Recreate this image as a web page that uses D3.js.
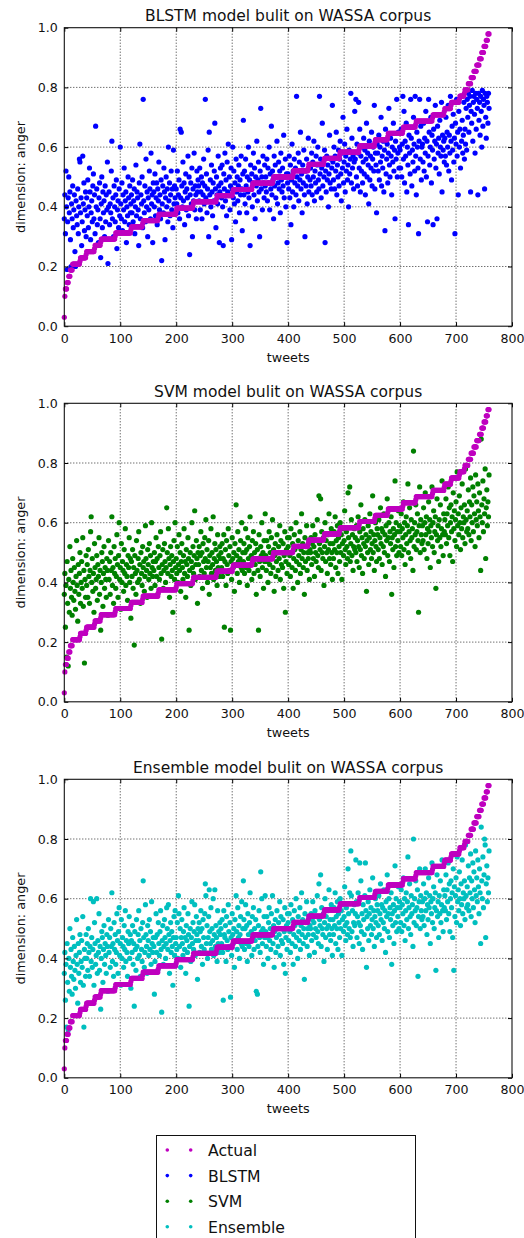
<!DOCTYPE html>
<html><head><meta charset="utf-8">
<script src="https://cdn.jsdelivr.net/npm/d3@7"></script>
<style>body{margin:0;background:#fff}svg{display:block}text{font-family:"DejaVu Sans",sans-serif;fill:#111}</style>
</head><body><svg id="c" width="524" height="1238"></svg>
<script>
const xTicks=[0,100,200,300,400,500,600,700,800];
const yTicks=[0,0.2,0.4,0.6,0.8,1.0];
const titles=["BLSTM model bulit on WASSA corpus","SVM model bulit on WASSA corpus","Ensemble model bulit on WASSA corpus"];
const seriesNames=["Actual","BLSTM","SVM","Ensemble"];
const seriesColors=["#bf00bf","#0000ff","#008000","#00bfbf"];
// Actual anger intensity (sorted): distinct values and how many tweets share each
const actualLevels=[0.03,0.10,0.125,0.146,0.167,0.188,0.208,0.218,0.229,0.24,0.25,0.26,0.271,0.281,0.292,0.302,0.3125,0.323,0.333,0.344,0.354,0.365,0.375,0.385,0.396,0.406,0.417,0.427,0.4375,0.448,0.458,0.469,0.479,0.49,0.5,0.51,0.521,0.531,0.542,0.552,0.5625,0.573,0.583,0.594,0.604,0.615,0.625,0.635,0.646,0.656,0.667,0.677,0.6875,0.698,0.708,0.719,0.729,0.74,0.75,0.76,0.771,0.781,0.792,0.8125,0.833,0.854,0.875,0.896,0.917,0.9375,0.958,0.979];
const actualCounts=[1,1,3,3,3,4,13,1,10,1,14,1,10,1,25,1,27,1,20,1,27,1,31,1,29,1,41,1,28,1,34,1,36,1,35,1,26,1,27,1,27,1,34,1,27,1,22,1,26,1,22,1,29,1,20,1,11,1,14,1,8,1,6,5,5,5,5,4,4,4,3,3];
const blstm=[
.36,.44,.31,.52,.40,.19,.35,.43,.50,.38,.45,.29,.20,.41,.36,.47,.33,.39,.44,.25,.20,.42,.37,.34,.46,.31,.40,.56,.55,.38,.43,.27,.35,.57,.41,.48,.32,.39,.45,.30,
.43,.37,.49,.33,.40,.53,.45,.29,.38,.42,.35,.47,.51,.36,.44,.31,.67,.40,.46,.34,.39,.28,.43,.48,.36,.23,.41,.50,.33,.45,.38,.42,.30,.47,.35,.44,.39,.55,.21,.40,
.45,.34,.41,.38,.52,.62,.36,.43,.30,.47,.40,.35,.44,.49,.26,.39,.42,.33,.46,.37,.60,.41,.36,.48,.32,.44,.39,.53,.35,.42,.45,.28,.40,.37,.50,.43,.34,.47,.38,.41,
.44,.38,.49,.35,.42,.46,.31,.40,.54,.37,.45,.43,.39,.27,.48,.61,.36,.44,.41,.50,.33,.76,.42,.38,.47,.35,.56,.40,.45,.30,.43,.39,.52,.46,.36,.58,.41,.44,.28,.48,
.45,.40,.51,.37,.43,.48,.34,.46,.42,.55,.39,.44,.36,.49,.22,.41,.47,.38,.53,.45,.29,.43,.50,.40,.46,.35,.60,.42,.48,.37,.44,.52,.39,.46,.33,.59,.41,.47,.43,.38,
.46,.41,.52,.38,.44,.49,.36,.66,.43,.65,.47,.40,.55,.42,.48,.34,.45,.51,.39,.46,.43,.57,.37,.50,.24,.44,.48,.41,.53,.30,.46,.42,.58,.39,.47,.44,.36,.52,.45,.49,
.47,.42,.53,.39,.45,.50,.36,.48,.44,.56,.41,.47,.76,.43,.51,.38,.46,.59,.30,.65,.44,.49,.40,.54,.45,.37,.48,.42,.52,.68,.46,.33,.50,.44,.41,.57,.47,.28,.45,.53,
.48,.43,.54,.40,.27,.51,.46,.58,.42,.49,.37,.55,.45,.61,.44,.50,.39,.47,.53,.29,.46,.60,.43,.52,.41,.48,.35,.56,.45,.50,.42,.47,.54,.38,.49,.44,.57,.46,.32,.51,
.69,.44,.52,.41,.56,.47,.38,.50,.45,.60,.43,.49,.27,.54,.46,.51,.40,.48,.58,.44,.53,.36,.50,.47,.62,.42,.49,.55,.45,.30,.52,.73,.46,.50,.39,.57,.48,.43,.54,.47,
.50,.45,.56,.42,.53,.48,.60,.39,.51,.46,.67,.44,.52,.49,.36,.57,.47,.54,.43,.50,.62,.41,.48,.55,.46,.52,.38,.58,.49,.45,.53,.47,.64,.43,.50,.56,.40,.51,.28,.48,
.51,.46,.57,.43,.54,.34,.49,.61,.45,.52,.40,.56,.48,.53,.44,.77,.50,.47,.58,.42,.55,.49,.65,.46,.51,.38,.54,.48,.59,.44,.30,.52,.47,.56,.41,.50,.63,.45,.53,.49,
.53,.47,.58,.44,.55,.50,.62,.42,.52,.48,.57,.45,.54,.60,.49,.46,.77,.51,.56,.43,.53,.68,.47,.55,.50,.59,.28,.52,.45,.57,.49,.54,.40,.51,.64,.48,.56,.46,.53,.74,
.55,.49,.60,.46,.57,.52,.65,.44,.54,.50,.59,.47,.56,.62,.51,.42,.58,.53,.70,.48,.55,.61,.45,.57,.52,.66,.49,.54,.40,.59,.51,.56,.78,.48,.63,.53,.57,.46,.55,.72,
.56,.76,.50,.61,.47,.58,.75,.53,.66,.45,.57,.52,.60,.48,.55,.63,.51,.59,.44,.56,.68,.50,.58,.54,.41,.62,.49,.57,.53,.65,.47,.56,.60,.52,.74,.46,.58,.54,.38,.61,
.58,.52,.64,.49,.60,.55,.70,.47,.57,.53,.62,.45,.59,.32,.66,.51,.56,.61,.48,.58,.73,.54,.50,.63,.57,.44,.60,.55,.68,.52,.59,.36,.62,.56,.76,.50,.58,.65,.53,.60,
.59,.53,.66,.50,.61,.77,.56,.72,.48,.62,.57,.68,.45,.60,.54,.34,.64,.58,.51,.76,.63,.47,.59,.55,.70,.61,.52,.77,.57,.44,.65,.60,.53,.31,.62,.76,.56,.67,.49,.60,
.61,.55,.68,.52,.63,.58,.72,.50,.62,.35,.57,.76,.65,.54,.60,.70,.48,.64,.59,.34,.66,.56,.62,.74,.53,.61,.36,.67,.58,.63,.51,.69,.60,.57,.75,.45,.64,.59,.62,.55,
.63,.57,.70,.54,.65,.60,.74,.52,.64,.58,.77,.62,.49,.67,.59,.71,.55,.63,.31,.68,.61,.76,.57,.65,.44,.72,.60,.66,.53,.77,.62,.69,.58,.64,.75,.56,.66,.61,.73,.59,
.76,.70,.78,.65,.74,.77,.45,.72,.68,.79,.62,.75,.77,.71,.58,.78,.66,.76,.73,.44,.78,.69,.75,.64,.77,.72,.60,.79,.67,.76,.74,.46,.78,.70,.63,.77,.75,.68,.78,.73];
const svm=[
.36,.43,.25,.39,.15,.47,.33,.12,.41,.30,.52,.38,.44,.35,.29,.48,.40,.34,.45,.37,.31,.42,.54,.39,.27,.46,.36,.43,.50,.33,.40,.47,.38,.55,.32,.44,.13,.41,.35,.49,
.39,.46,.35,.51,.42,.33,.44,.57,.62,.40,.48,.37,.43,.30,.53,.45,.38,.41,.49,.34,.46,.42,.55,.36,.44,.24,.40,.50,.47,.32,.43,.52,.38,.45,.41,.35,.48,.44,.29,.54,
.41,.47,.36,.50,.44,.62,.39,.45,.33,.52,.43,.48,.38,.42,.56,.46,.35,.49,.60,.41,.45,.31,.53,.40,.47,.44,.37,.51,.43,.58,.39,.46,.42,.34,.49,.45,.55,.40,.48,.28,
.47,.42,.51,.38,.45,.19,.49,.43,.36,.54,.44,.40,.48,.57,.41,.46,.33,.50,.43,.39,.52,.45,.47,.37,.42,.59,.48,.44,.35,.51,.46,.41,.53,.43,.49,.38,.60,.45,.42,.47,
.44,.50,.39,.47,.55,.42,.48,.36,.52,.45,.41,.49,.57,.43,.21,.46,.51,.38,.44,.53,.47,.40,.45,.65,.50,.43,.58,.48,.35,.46,.52,.42,.49,.44,.30,.47,.54,.41,.60,.45,
.48,.43,.52,.40,.46,.56,.44,.50,.37,.47,.53,.45,.41,.49,.58,.43,.47,.35,.51,.46,.42,.55,.48,.24,.44,.50,.39,.47,.60,.45,.52,.43,.49,.64,.41,.46,.54,.48,.33,.50,
.46,.52,.42,.49,.57,.44,.50,.38,.53,.47,.43,.55,.48,.61,.45,.51,.40,.47,.54,.36,.49,.45,.58,.43,.50,.46,.62,.41,.48,.53,.44,.51,.47,.39,.56,.45,.49,.42,.52,.48,
.50,.45,.53,.42,.48,.56,.25,.47,.51,.39,.54,.46,.43,.58,.49,.44,.52,.24,.47,.41,.55,.48,.45,.50,.37,.53,.46,.66,.49,.43,.57,.47,.51,.40,.48,.54,.45,.60,.44,.50,
.47,.53,.43,.50,.58,.45,.51,.39,.55,.48,.44,.52,.62,.46,.49,.41,.54,.47,.57,.43,.50,.46,.53,.36,.48,.51,.44,.24,.56,.47,.42,.52,.49,.60,.45,.50,.38,.54,.47,.63,
.49,.44,.54,.47,.40,.52,.57,.46,.50,.43,.55,.48,.61,.45,.51,.37,.49,.53,.42,.47,.56,.50,.44,.52,.48,.59,.41,.54,.46,.50,.45,.53,.38,.49,.57,.30,.47,.51,.43,.55,
.52,.46,.55,.49,.42,.58,.50,.45,.53,.38,.48,.56,.51,.44,.60,.47,.52,.40,.54,.49,.46,.57,.43,.51,.63,.48,.53,.45,.50,.36,.55,.47,.52,.59,.44,.50,.48,.54,.41,.51,
.50,.55,.46,.53,.59,.48,.52,.42,.56,.50,.47,.54,.61,.49,.45,.69,.53,.51,.68,.44,.57,.50,.48,.55,.39,.52,.60,.47,.54,.50,.43,.56,.51,.63,.48,.53,.46,.58,.50,.41,
.53,.48,.57,.51,.62,.45,.54,.50,.59,.43,.55,.52,.47,.60,.50,.56,.41,.53,.58,.49,.54,.64,.51,.46,.57,.52,.48,.70,.55,.50,.72,.47,.53,.61,.49,.56,.44,.52,.58,.51,
.55,.50,.59,.47,.54,.62,.52,.45,.57,.51,.66,.49,.55,.43,.58,.53,.48,.61,.52,.56,.37,.54,.50,.59,.46,.55,.63,.51,.57,.48,.53,.69,.50,.56,.44,.54,.60,.52,.47,.58,
.56,.51,.61,.48,.55,.65,.53,.58,.46,.57,.52,.63,.50,.56,.42,.59,.54,.68,.49,.55,.60,.47,.57,.53,.62,.36,.55,.51,.58,.45,.56,.74,.52,.60,.49,.57,.54,.64,.50,.59,
.57,.52,.63,.49,.58,.55,.67,.51,.60,.46,.56,.62,.53,.59,.73,.50,.57,.65,.54,.48,.61,.55,.58,.44,.84,.52,.60,.56,.66,.51,.57,.63,.54,.30,.59,.72,.50,.61,.56,.53,
.59,.54,.65,.51,.60,.70,.56,.62,.48,.58,.53,.67,.57,.61,.45,.59,.55,.72,.52,.60,.64,.50,.57,.62,.38,.56,.68,.54,.59,.47,.61,.55,.66,.52,.58,.74,.56,.49,.63,.57,
.61,.56,.68,.53,.63,.59,.72,.55,.65,.49,.60,.66,.57,.62,.47,.70,.58,.64,.54,.61,.67,.52,.77,.59,.63,.56,.69,.60,.51,.65,.58,.73,.55,.62,.60,.66,.53,.78,.61,.57,
.64,.58,.71,.56,.67,.62,.75,.54,.66,.60,.72,.57,.69,.63,.52,.76,.61,.67,.59,.73,.64,.55,.70,.62,.44,.88,.66,.60,.74,.57,.68,.63,.78,.48,.65,.71,.59,.67,.62,.76];
const ensemble=[
.35,.42,.26,.38,.17,.45,.32,.16,.40,.29,.50,.37,.43,.34,.28,.47,.39,.33,.44,.36,.30,.41,.53,.38,.25,.45,.35,.42,.48,.32,.39,.46,.37,.54,.31,.17,.43,.40,.34,.48,
.40,.45,.36,.50,.42,.34,.44,.60,.39,.47,.37,.43,.59,.31,.52,.45,.38,.41,.60,.35,.46,.42,.55,.36,.44,.23,.40,.49,.47,.32,.43,.51,.38,.45,.41,.35,.48,.44,.29,.53,
.42,.47,.37,.50,.44,.62,.39,.45,.34,.52,.43,.48,.38,.42,.55,.46,.35,.49,.57,.41,.45,.31,.53,.40,.47,.44,.37,.51,.43,.56,.39,.46,.42,.34,.49,.45,.54,.40,.48,.30,
.46,.42,.51,.38,.45,.24,.49,.43,.36,.53,.44,.40,.48,.56,.41,.46,.34,.50,.43,.39,.52,.66,.47,.37,.42,.58,.48,.44,.35,.51,.46,.41,.53,.43,.49,.38,.59,.45,.42,.47,
.44,.28,.39,.47,.55,.42,.48,.36,.52,.45,.41,.49,.56,.43,.22,.46,.51,.38,.44,.53,.47,.40,.45,.57,.50,.43,.58,.48,.35,.46,.52,.42,.49,.44,.31,.47,.54,.41,.56,.45,
.47,.43,.52,.40,.61,.55,.44,.50,.37,.47,.53,.45,.41,.49,.57,.43,.47,.35,.51,.46,.42,.55,.48,.24,.44,.50,.39,.47,.59,.45,.52,.43,.49,.58,.41,.46,.54,.48,.33,.50,
.46,.52,.42,.49,.56,.44,.50,.38,.53,.47,.43,.55,.65,.61,.45,.51,.40,.47,.54,.63,.49,.45,.57,.43,.50,.46,.60,.41,.48,.63,.44,.51,.47,.39,.56,.45,.49,.42,.52,.48,
.50,.45,.53,.42,.26,.56,.48,.47,.51,.39,.54,.46,.43,.58,.49,.44,.52,.27,.47,.41,.55,.48,.45,.50,.37,.53,.46,.61,.49,.43,.57,.47,.51,.40,.48,.54,.45,.59,.44,.50,
.66,.53,.43,.50,.58,.45,.51,.39,.55,.48,.44,.52,.62,.46,.49,.41,.54,.47,.57,.43,.50,.46,.53,.29,.48,.28,.44,.51,.56,.47,.42,.69,.49,.60,.45,.50,.38,.54,.47,.61,
.49,.44,.54,.47,.40,.52,.57,.46,.50,.43,.55,.48,.61,.45,.51,.37,.49,.53,.42,.47,.56,.50,.44,.52,.48,.59,.41,.54,.46,.50,.45,.53,.38,.49,.57,.35,.47,.51,.43,.55,
.52,.46,.55,.49,.42,.58,.50,.45,.53,.38,.48,.56,.51,.44,.60,.47,.52,.40,.54,.49,.46,.57,.43,.51,.62,.48,.53,.45,.50,.33,.55,.47,.52,.59,.44,.50,.48,.54,.41,.51,
.50,.55,.46,.53,.59,.48,.52,.42,.56,.50,.47,.54,.61,.49,.45,.65,.53,.51,.68,.44,.57,.50,.48,.55,.39,.52,.60,.47,.54,.50,.43,.56,.51,.63,.48,.53,.46,.58,.50,.41,
.53,.48,.57,.51,.62,.45,.54,.50,.59,.43,.55,.52,.47,.60,.50,.56,.41,.53,.58,.49,.54,.64,.51,.46,.57,.52,.48,.70,.55,.50,.62,.47,.76,.61,.49,.56,.44,.52,.58,.51,
.55,.73,.59,.47,.54,.62,.52,.45,.72,.51,.66,.49,.55,.43,.58,.53,.48,.61,.72,.56,.37,.54,.50,.59,.46,.55,.63,.51,.57,.48,.53,.67,.50,.56,.44,.54,.60,.52,.47,.58,
.56,.51,.61,.48,.55,.65,.53,.58,.46,.57,.52,.63,.50,.56,.42,.59,.54,.68,.49,.55,.60,.47,.57,.53,.62,.38,.55,.51,.58,.45,.56,.71,.52,.60,.49,.57,.54,.64,.50,.59,
.57,.52,.63,.49,.58,.55,.67,.51,.60,.46,.56,.62,.53,.59,.74,.50,.57,.65,.54,.48,.61,.55,.58,.44,.80,.52,.60,.56,.66,.51,.57,.63,.34,.54,.59,.70,.50,.61,.56,.53,
.59,.54,.65,.51,.60,.70,.56,.62,.48,.58,.53,.67,.57,.61,.45,.59,.55,.72,.52,.60,.64,.50,.57,.62,.36,.56,.68,.54,.59,.47,.61,.55,.66,.52,.58,.73,.56,.49,.63,.57,
.61,.56,.68,.53,.63,.59,.72,.55,.65,.49,.60,.66,.57,.62,.47,.70,.36,.64,.54,.61,.67,.52,.74,.59,.63,.56,.69,.60,.51,.65,.58,.73,.55,.62,.60,.66,.53,.78,.61,.57,
.64,.58,.71,.56,.67,.62,.75,.54,.66,.60,.72,.57,.69,.63,.52,.76,.61,.67,.59,.73,.64,.55,.70,.62,.45,.84,.66,.60,.74,.57,.68,.80,.78,.47,.65,.71,.59,.67,.62,.76];

const actual=[];
actualLevels.forEach((v,i)=>{for(let k=0;k<actualCounts[i];k++)actual.push(v);});
const preds=[blstm,svm,ensemble];

const svg=d3.select("#c");
const L=64.3,R=512,H=298.5;
const tops=[27.7,403.3,779.3];
const x=d3.scaleLinear().domain([0,800]).range([L,R]);
const fmtY=d3.format(".1f");
const rDot=2.6;

tops.forEach((top,p)=>{
  const y=d3.scaleLinear().domain([0,1]).range([top+H,top]);
  const g=svg.append("g");
  g.append("g").selectAll("line").data(xTicks.slice(1,-1)).join("line")
    .attr("x1",d=>x(d)).attr("x2",d=>x(d)).attr("y1",top).attr("y2",top+H)
    .attr("stroke","#000").attr("stroke-width",0.8).attr("stroke-dasharray","1,2");
  g.append("g").selectAll("line").data(yTicks.slice(1,-1)).join("line")
    .attr("y1",d=>y(d)).attr("y2",d=>y(d)).attr("x1",L).attr("x2",R)
    .attr("stroke","#000").attr("stroke-width",0.8).attr("stroke-dasharray","1,2");
  g.append("g").selectAll("circle").data(preds[p]).join("circle")
    .attr("cx",(d,i)=>x(i)).attr("cy",d=>y(d)).attr("r",rDot).attr("fill",seriesColors[p+1]);
  g.append("g").selectAll("circle").data(actual).join("circle")
    .attr("cx",(d,i)=>x(i)).attr("cy",d=>y(d)).attr("r",rDot).attr("fill",seriesColors[0]);
  g.append("g").attr("transform",`translate(0,${top+H})`)
    .call(d3.axisBottom(x).tickValues(xTicks).tickSize(-4).tickPadding(7.4).tickFormat(d3.format("d")));
  g.append("g").attr("transform",`translate(${L},0)`)
    .call(d3.axisLeft(y).tickValues(yTicks).tickSize(-4).tickPadding(6.6).tickFormat(fmtY));
  g.append("g").attr("transform",`translate(0,${top})`)
    .call(d3.axisTop(x).tickValues(xTicks).tickSize(-4).tickFormat(""));
  g.append("g").attr("transform",`translate(${R},0)`)
    .call(d3.axisRight(y).tickValues(yTicks).tickSize(-4).tickFormat(""));
  g.selectAll(".domain").remove();
  g.selectAll(".tick line").attr("stroke","#000");
  g.selectAll(".tick text").attr("font-size","12.6px").attr("font-family","DejaVu Sans").attr("fill","#111");
  g.append("rect").attr("x",L).attr("y",top).attr("width",R-L).attr("height",H)
    .attr("fill","none").attr("stroke","#111").attr("stroke-width",1.1);
  g.append("text").attr("x",(L+R)/2).attr("y",top-6.4).attr("text-anchor","middle")
    .attr("font-size","15.5px").text(titles[p]);
  g.append("text").attr("x",(L+R)/2).attr("y",top+H+35.5).attr("text-anchor","middle")
    .attr("font-size","12.8px").text("tweets");
  g.append("text").attr("transform",`translate(25.3,${top+H/2}) rotate(-90)`).attr("text-anchor","middle")
    .attr("font-size","12.8px").text("dimension: anger");
});

const lg=svg.append("g");
lg.append("rect").attr("x",156.5).attr("y",1135.5).attr("width",259).attr("height",130)
  .attr("fill","#fff").attr("stroke","#111").attr("stroke-width",1);
seriesNames.forEach((n,i)=>{
  const cy=1150+i*25.6;
  [167.3,190.7].forEach(cx=>lg.append("circle").attr("cx",cx).attr("cy",cy).attr("r",1.8).attr("fill",seriesColors[i]));
  lg.append("text").attr("x",208).attr("y",cy+6).attr("font-size","15.7px").text(n);
});
</script></body></html>
